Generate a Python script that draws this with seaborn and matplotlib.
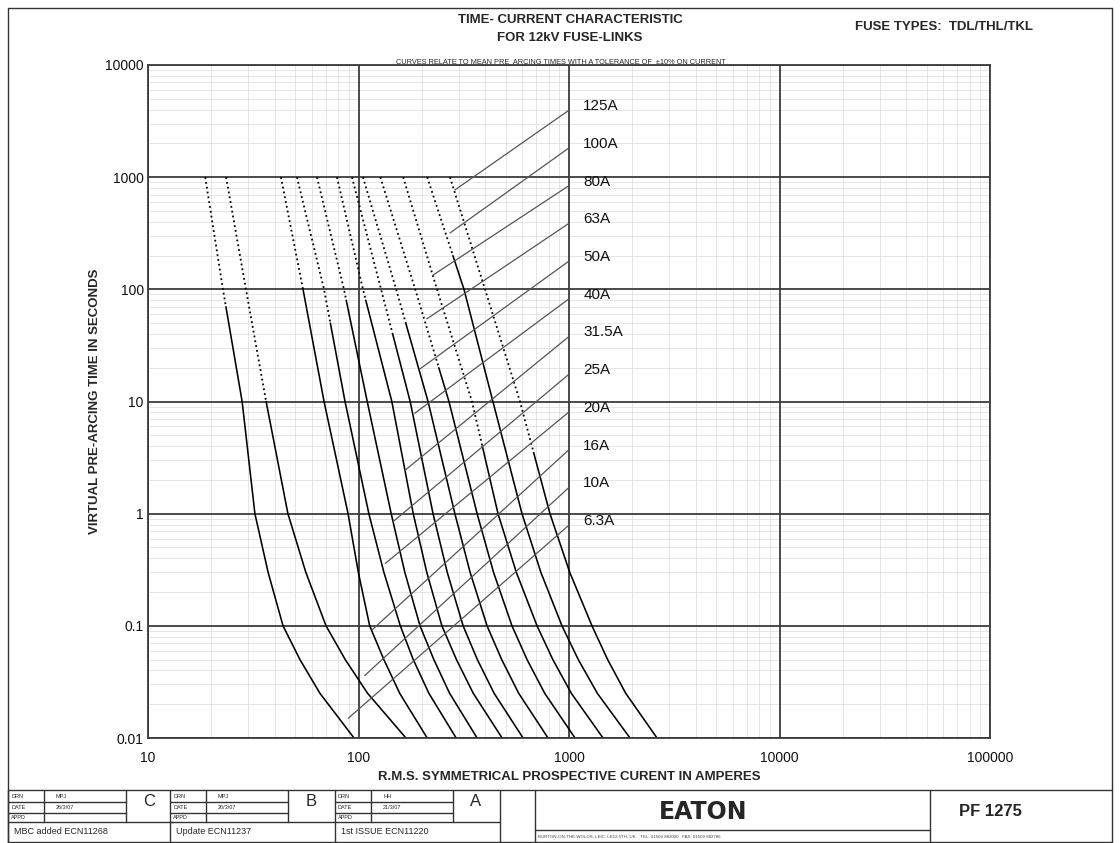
import numpy as np
import matplotlib
matplotlib.use("Agg")
import matplotlib.pyplot as plt
import seaborn as sns
from matplotlib.lines import Line2D
from matplotlib.ticker import FixedLocator, LogLocator, NullFormatter

# fuse ratings, left to right on the chart
fuse_labels = ['6.3A', '10A', '16A', '20A', '25A', '31.5A', '40A', '50A', '63A', '80A', '100A', '125A']

# pre-arcing times (s) each curve was read at
times = [1000, 100, 10, 1, 0.3, 0.1, 0.05, 0.025, 0.01]

# prospective current (A) at those times
amps_6_3 = [18.7, 22.7, 28.0, 32.2, 37.2, 43.8, 52.7, 65.6, 95.2]
amps_10 = [23.5, 29.2, 36.4, 46.2, 56.2, 70.1, 86.5, 110.5, 168]
amps_16 = [42.8, 54.5, 68.6, 89.2, 99.8, 113, 132, 157, 212]
amps_20 = [51.0, 68.6, 86.3, 112, 132, 158, 182, 216, 291]
amps_25 = [63.5, 85.3, 110, 143, 166, 196, 228, 271, 366]
amps_31_5 = [79.0, 105, 144, 182, 211, 249, 292, 351, 481]
amps_40 = [93.1, 128, 176, 226, 264, 314, 367, 441, 605]
amps_50 = [105, 151, 214, 287, 339, 408, 479, 577, 795]
amps_63 = [127, 186, 269, 366, 438, 536, 632, 767, 1068]
amps_80 = [163, 236, 346, 460, 562, 705, 838, 1026, 1451]
amps_100 = [212, 317, 435, 598, 735, 926, 1107, 1364, 1949]
amps_125 = [272, 399, 585, 812, 1008, 1286, 1526, 1861, 2619]

# above this time (s) the curve is only indicative (dotted)
solid_below = [70, 10, 100, 50, 80, 80, 40, 50, 20, 4, 200, 3.5]

# where each label's leader line touches the curves (A, s)
leader_amps = [89.4, 107, 116, 134, 146, 166, 185, 195, 211, 226, 272, 287]
leader_secs = [0.015, 0.036, 0.092, 0.36, 0.85, 2.43, 7.85, 19.4, 54.5, 134, 318, 769]

x_ticks = [10, 100, 1000, 10000, 100000]
x_tick_labels = ['10', '100', '1000', '10000', '100000']
y_ticks = [0.01, 0.1, 1, 10, 100, 1000, 10000]
y_tick_labels = ['0.01', '0.1', '1', '10', '100', '1000', '10000']

rev_letters = ['C', 'B', 'A']
rev_drawn = ['MPJ', 'MPJ', 'HH']
rev_dates = ['26/3/07', '20/3/07', '21/3/07']
rev_notes = ['MBC added ECN11268', 'Update ECN11237', '1st ISSUE ECN11220']

sns.set_style("white")
plt.rcParams['font.family'] = ['Liberation Sans', 'DejaVu Sans']

W, H = 1120, 843
fig = plt.figure(figsize=(W / 100, H / 100), dpi=100)


def fx(x):
    return x / W


def fy(y):
    return 1 - y / H


def line(x0, y0, x1, y1, lw=1.0, color='#333333'):
    fig.add_artist(Line2D([fx(x0), fx(x1)], [fy(y0), fy(y1)], color=color, lw=lw))


ax = fig.add_axes([fx(148), fy(738), (990 - 148) / W, (738 - 65) / H])
ax.set_xscale('log')
ax.set_yscale('log')

# curves: dotted above the split time, solid below it
all_amps = [amps_6_3, amps_10, amps_16, amps_20, amps_25, amps_31_5,
            amps_40, amps_50, amps_63, amps_80, amps_100, amps_125]
t = np.array(times, float)
logt = np.log10(t)
for amps, t_split in zip(all_amps, solid_below):
    a = np.array(amps, float)
    a_split = 10 ** np.interp(np.log10(t_split), logt[::-1], np.log10(a)[::-1])
    upper = t > t_split
    sns.lineplot(x=np.r_[a[upper], a_split], y=np.r_[t[upper], t_split], ax=ax,
                 color='black', lw=1.3, linestyle=(0, (1, 1.7)), sort=False, estimator=None)
    sns.lineplot(x=np.r_[a_split, a[~upper]], y=np.r_[t_split, t[~upper]], ax=ax,
                 color='black', lw=1.15, sort=False, estimator=None)

# rating labels with leader lines
label_secs = np.geomspace(0.86, 4300, len(fuse_labels))
for name, ls, la, lt in zip(fuse_labels, label_secs, leader_amps, leader_secs):
    ax.plot([la, 1000], [lt, ls * 0.92], color='#555555', lw=0.9)
    ax.text(1170, ls, name, fontsize=11, va='center', ha='left', color='#111111')

ax.set_xlim(10, 1e5)
ax.set_ylim(0.01, 1e4)
ax.xaxis.set_major_locator(FixedLocator(x_ticks))
ax.yaxis.set_major_locator(FixedLocator(y_ticks))
ax.set_xticklabels(x_tick_labels)
ax.set_yticklabels(y_tick_labels)
for axis in (ax.xaxis, ax.yaxis):
    axis.set_minor_locator(LogLocator(base=10, subs=np.arange(2, 10), numticks=30))
    axis.set_minor_formatter(NullFormatter())
ax.tick_params(which='both', length=0, labelsize=10, colors='#111111')
ax.tick_params(axis='x', pad=9)
ax.tick_params(axis='y', pad=3)
ax.grid(which='minor', color='#e0e0e0', lw=0.6, zorder=0)
ax.set_axisbelow(True)
# decade lines drawn over the light minor grid
for xv in x_ticks:
    ax.axvline(xv, color='#3c3c3c', lw=1.3, zorder=1)
for yv in y_ticks:
    ax.axhline(yv, color='#3c3c3c', lw=1.3, zorder=1)
for s in ax.spines.values():
    s.set_color('#3c3c3c')
    s.set_linewidth(1.3)

ax.set_xlabel('R.M.S. SYMMETRICAL PROSPECTIVE CURENT IN AMPERES',
              fontsize=9.5, fontweight='bold', labelpad=5)
ax.set_ylabel('VIRTUAL PRE-ARCING TIME IN SECONDS', fontsize=9.5, fontweight='bold', labelpad=3)

# headings
fig.text(fx(570), fy(20), 'TIME- CURRENT CHARACTERISTIC', fontsize=9.5, fontweight='bold',
         ha='center', va='center')
fig.text(fx(570), fy(38), 'FOR 12kV FUSE-LINKS', fontsize=9.5, fontweight='bold',
         ha='center', va='center')
fig.text(fx(944), fy(27), 'FUSE TYPES:  TDL/THL/TKL', fontsize=9.5, fontweight='bold',
         ha='center', va='center')
fig.text(fx(561), fy(65.5), 'CURVES RELATE TO MEAN PRE  ARCING TIMES WITH A TOLERANCE OF  \u00b110% ON CURRENT',
         fontsize=5.3, ha='center', va='bottom')

# drawing frame
line(8, 8, 1112, 8)
line(8, 8, 8, 843)
line(1112, 8, 1112, 843)
line(8, 842, 1112, 842)
line(8, 790, 1112, 790)

# revision blocks
for i, x0 in enumerate([8, 170, 335]):
    line(x0, 790, x0, 843)
    line(x0 + 36, 790, x0 + 36, 822)
    line(x0 + 118, 790, x0 + 118, 822)
    line(x0, 802, x0 + 118, 802)
    line(x0, 813, x0 + 118, 813)
    line(x0, 822, x0 + 165, 822)
    for yy, tag in zip([796, 807.5, 817.5], ['DRN', 'DATE', 'APPD']):
        fig.text(fx(x0 + 3), fy(yy), tag, fontsize=4, va='center')
    fig.text(fx(x0 + 48), fy(796), rev_drawn[i], fontsize=4, va='center')
    fig.text(fx(x0 + 48), fy(807.5), rev_dates[i], fontsize=4, va='center')
    fig.text(fx(x0 + 141), fy(801), rev_letters[i], fontsize=12, ha='center', va='center')
    fig.text(fx(x0 + 6), fy(832), rev_notes[i], fontsize=6.5, va='center')
line(500, 790, 500, 843)
line(535, 790, 535, 843)
line(930, 790, 930, 843)
line(535, 830, 930, 830)
fig.text(fx(703), fy(812), 'EATON', fontsize=17, fontweight='heavy', ha='center', va='center',
         family=['DejaVu Sans'])
fig.text(fx(990), fy(812), 'PF 1275', fontsize=12, fontweight='bold', ha='center', va='center')
fig.text(fx(538), fy(837), 'BURTON-ON-THE-WOLDS, LEIC. LE12 5TH, UK.   TEL: 01509 882000   FAX: 01509 882786',
         fontsize=3.2, va='center', color='#444444')

fig.savefig('out.png', dpi=100)
plt.close(fig)
